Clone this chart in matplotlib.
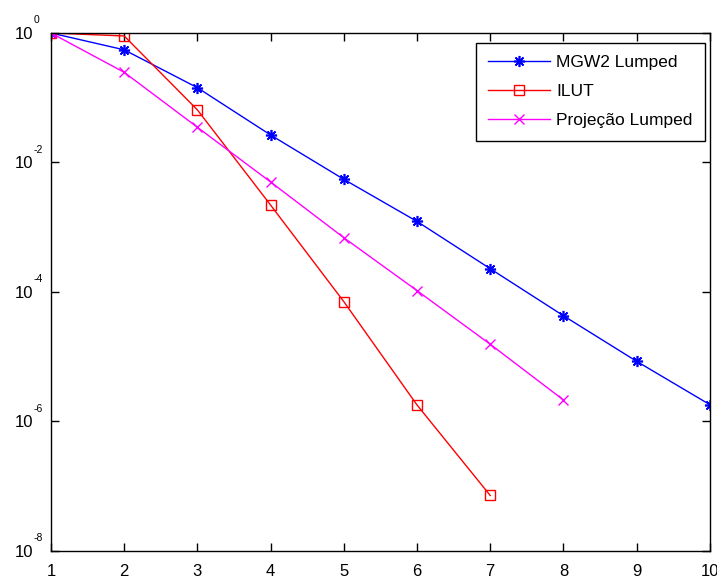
import matplotlib.pyplot as plt
from matplotlib.ticker import FixedLocator, NullLocator

plt.rcParams["font.family"] = ["Liberation Sans", "DejaVu Sans"]

iterations = [1, 2, 3, 4, 5, 6, 7, 8, 9, 10]
mgw2_lumped = [1.0, 0.55, 0.143, 0.0266, 5.5e-3, 1.23e-3, 2.29e-4, 4.3e-5, 8.5e-6, 1.82e-6]

ilut_iter = [1, 2, 3, 4, 5, 6, 7]
ilut = [1.0, 0.90, 0.065, 2.2e-3, 7.1e-5, 1.8e-6, 7.2e-8]

proj_iter = [1, 2, 3, 4, 5, 6, 7, 8]
projecao_lumped = [1.0, 0.247, 0.035, 5.0e-3, 6.9e-4, 1.05e-4, 1.56e-5, 2.15e-6]

y_ticks = [1e-8, 1e-6, 1e-4, 1e-2, 1e0]
y_exponents = ["-8", "-6", "-4", "-2", "0"]

fig = plt.figure(figsize=(7.17, 5.79), dpi=100)
ax = fig.add_axes([0.0711, 0.0484, 0.9189, 0.8946])

ax.semilogy(iterations, mgw2_lumped, color="#0000ff", marker=(8, 2, 0),
            markersize=8, markeredgewidth=1.2, linewidth=1, label="MGW2 Lumped")
ax.semilogy(ilut_iter, ilut, color="#ff0000", marker="s", markersize=7,
            markerfacecolor="none", linewidth=1, label="ILUT")
ax.semilogy(proj_iter, projecao_lumped, color="#ff00ff", marker="x", markersize=7,
            linewidth=1, label="Projeção Lumped")

ax.set_xlim(1, 10)
ax.set_ylim(1e-8, 1e0)
ax.set_xticks(iterations)
ax.yaxis.set_major_locator(FixedLocator(y_ticks))
ax.yaxis.set_minor_locator(NullLocator())
ax.set_yticklabels(["10"] * len(y_ticks))

# MATLAB style small raised exponents
for tick, exp in zip(y_ticks, y_exponents):
    ax.annotate(exp, xy=(0, tick), xycoords=ax.get_yaxis_transform(),
                xytext=(-12.5, 5.5), textcoords="offset points",
                ha="left", va="bottom", fontsize=7.5)

ax.tick_params(direction="in", top=True, right=True, length=6, width=1,
               labelsize=12)
ax.tick_params(axis="y", pad=13)
ax.tick_params(axis="x", pad=9.5)
for spine in ax.spines.values():
    spine.set_linewidth(1)

leg = ax.legend(loc="upper right", bbox_to_anchor=(0.9924, 0.9807),
                borderaxespad=0, fontsize=12.5, fancybox=False, framealpha=1,
                edgecolor="black", handlelength=3.6, handletextpad=0.35,
                labelspacing=0.8, borderpad=0.7)
leg.get_frame().set_linewidth(1)

fig.savefig("out.png", dpi=100)
